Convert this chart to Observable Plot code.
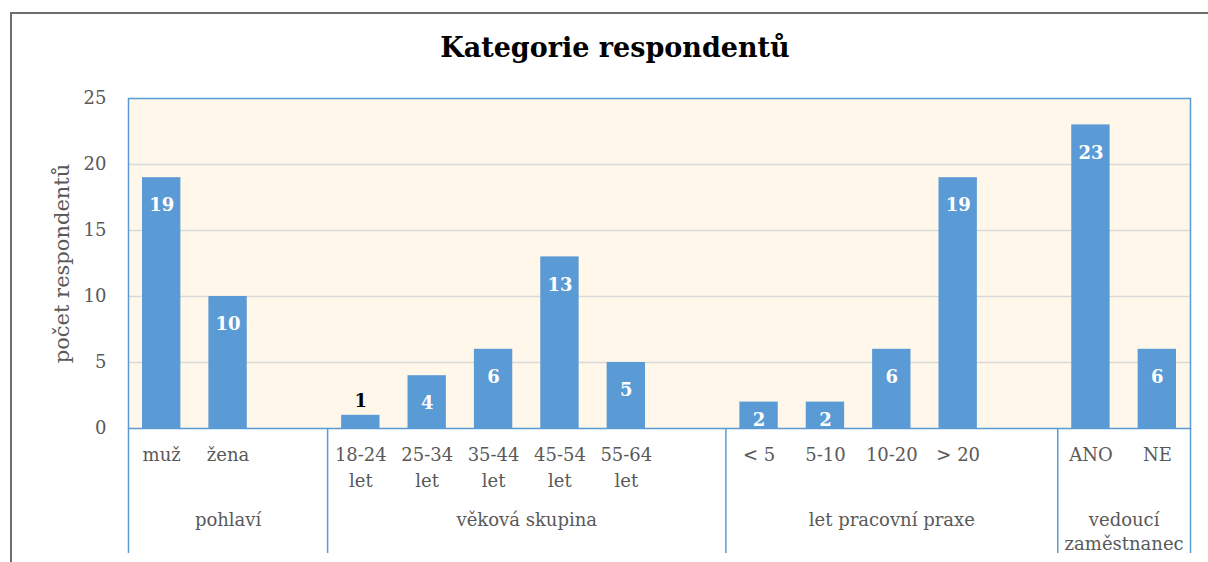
<!DOCTYPE html>
<html><head><meta charset="utf-8">
<script src="https://cdn.jsdelivr.net/npm/d3@7"></script>
<script src="https://cdn.jsdelivr.net/npm/@observablehq/plot@0.6"></script>
<style>
body{margin:0;background:#fff;overflow:hidden}
#wrap{position:relative;width:1208px;height:562px;overflow:hidden}
#frame{position:absolute;left:10px;top:12px;width:1300px;height:600px;border-left:2px solid #6e6e6e;border-top:2px solid #6e6e6e}
#title{position:absolute;left:10px;width:1210px;top:32px;text-align:center;font:bold 27px "DejaVu Serif";color:#000;line-height:32px}
#chart{position:absolute;left:0;top:0}
</style></head><body>
<div id="wrap"><div id="frame"></div><div id="chart"></div><div id="title">Kategorie respondentů</div></div>
<script>
const groupNames = ["pohlaví","věková skupina","let pracovní praxe","vedoucí\nzaměstnanec"];
const categories = ["muž","žena","18-24\nlet","25-34\nlet","35-44\nlet","45-54\nlet","55-64\nlet","< 5","5-10","10-20","> 20","ANO","NE"];
const categoryGroup = [0,0,1,1,1,1,1,2,2,2,2,3,3];
const counts = [19,10,1,4,6,13,5,2,2,6,19,23,6];
const groupGap = [1,1,1,0]; // empty category slots after each group
const yTicks = [0,5,10,15,20,25];
const yLabel = "počet respondentů";

// slot layout
const bars = []; const groups = [];
let slot = 0;
groupNames.forEach((name, g) => {
  const start = slot;
  categories.forEach((c, i) => { if (categoryGroup[i] === g) { bars.push({label: c, value: counts[i], slot}); slot++; } });
  slot += groupGap[g];
  groups.push({name, start, end: slot});
});
const boundaries = [0, ...groups.map(g => g.end)];

const W = 1208, H = 562, mL = 128, mR = 18, mT = 98, mB = 134;
const blue = "#5b9bd5", grey = "#595959";

const chart = Plot.plot({
  width: W, height: H,
  marginLeft: mL, marginRight: mR, marginTop: mT, marginBottom: mB,
  style: {fontFamily: "DejaVu Serif", fontSize: "18px", background: "transparent", overflow: "visible"},
  x: {type: "linear", domain: [0, slot], axis: null},
  y: {domain: [0, 25], axis: null},
  marks: [
    Plot.frame({fill: "#fef7ea"}),
    Plot.gridY([5, 10, 15, 20], {stroke: "#d9d9d9", strokeOpacity: 1, strokeWidth: 1.5}),
    Plot.rectY(bars, {x1: "slot", x2: d => d.slot + 1, y: "value", fill: blue, insetLeft: 14, insetRight: 14}),
    Plot.frame({stroke: blue, strokeWidth: 1.5}),
    Plot.ruleX(boundaries, {x: d => d, insetTop: H - mT - mB, insetBottom: -125, stroke: blue, strokeWidth: 1.5}),
    Plot.axisY(yTicks, {tickSize: 0, tickPadding: 22, fontSize: 18, fill: grey, label: null}),
    Plot.text([yLabel], {text: d => d, frameAnchor: "left", textAnchor: "middle", dx: -66, rotate: -90, fontSize: 21, fill: grey}),
    Plot.text(bars, {x: d => d.slot + 0.5, text: "label", frameAnchor: "bottom", lineAnchor: "top", dy: 14, lineHeight: 1.45, fontSize: 18, fill: grey}),
    Plot.text(groups, {x: d => (d.start + d.end) / 2, text: "name", frameAnchor: "bottom", lineAnchor: "top", dy: 80, lineHeight: 1.35, fontSize: 18, fill: grey}),
    Plot.text(bars.filter(d => d.value >= 4), {x: d => d.slot + 0.5, y: "value", text: d => String(d.value), dy: 28, fontSize: 18, fontWeight: "bold", fill: "#fff"}),
    Plot.text(bars.filter(d => d.value >= 2 && d.value < 4), {x: d => d.slot + 0.5, y: "value", text: d => String(d.value), dy: 18, fontSize: 18, fontWeight: "bold", fill: "#fff"}),
    Plot.text(bars.filter(d => d.value < 2), {x: d => d.slot + 0.5, y: "value", text: d => String(d.value), dy: -14, fontSize: 18, fontWeight: "bold", fill: "#000"})
  ]
});
document.getElementById("chart").appendChild(chart);
</script>
</body></html>
